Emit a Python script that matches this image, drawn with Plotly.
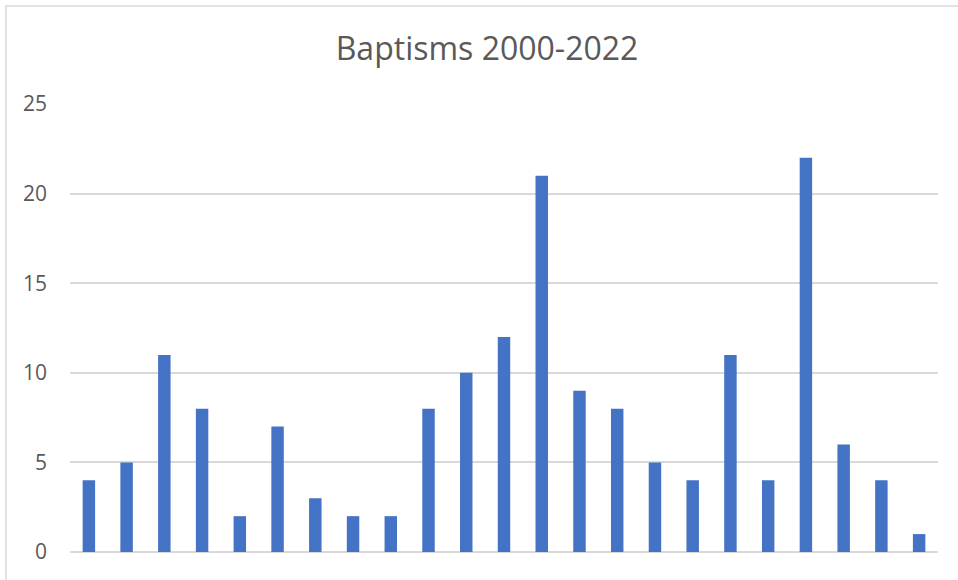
import plotly.graph_objects as go

years = [str(y) for y in range(2000, 2023)]
baptisms = [4, 5, 11, 8, 2, 7, 3, 2, 2, 8, 10, 12, 21, 9, 8, 5, 4, 11, 4, 22, 6, 4, 1]
y_ticks = [0, 5, 10, 15, 20, 25]

W, H = 958, 580
ML, MR, MT, MB = 70, 20, 104, 28
pw = W - ML - MR
ph = H - MT - MB

fig = go.Figure(go.Bar(x=years, y=baptisms, marker=dict(color="#4472C4", line=dict(width=0))))

def px_to_paper_x(px):
    return (px - ML) / pw

def px_to_paper_y(py):
    return (H - MB - py) / ph

fig.update_layout(
    width=W, height=H,
    margin=dict(l=ML, r=MR, t=MT, b=MB),
    paper_bgcolor="white", plot_bgcolor="white",
    bargap=0.67,
    showlegend=False,
    font=dict(family="Open Sans", color="#595959"),
    title=dict(text="Baptisms 2000-2022", font=dict(size=32, color="#595959", family="Open Sans"),
               x=px_to_paper_x(487), xref="paper", xanchor="center",
               y=1 - 49 / H, yref="container", yanchor="middle"),
    xaxis=dict(showticklabels=False, showgrid=False, zeroline=False, showline=False, ticks=""),
    yaxis=dict(range=[0, 25], tickvals=y_ticks, showgrid=True, gridcolor="#d9d9d9", gridwidth=1.5,
               zeroline=True, zerolinecolor="#d9d9d9", zerolinewidth=1.5,
               showline=False, ticks="", ticklabelstandoff=22,
               tickfont=dict(size=21, color="#595959", family="Open Sans")),
    shapes=[dict(type="rect", xref="paper", yref="paper",
                 x0=px_to_paper_x(6), x1=px_to_paper_x(975),
                 y0=px_to_paper_y(600), y1=px_to_paper_y(6),
                 line=dict(color="#d9d9d9", width=1.5), fillcolor="rgba(0,0,0,0)", layer="below")],
)

fig.write_html("out.html")
